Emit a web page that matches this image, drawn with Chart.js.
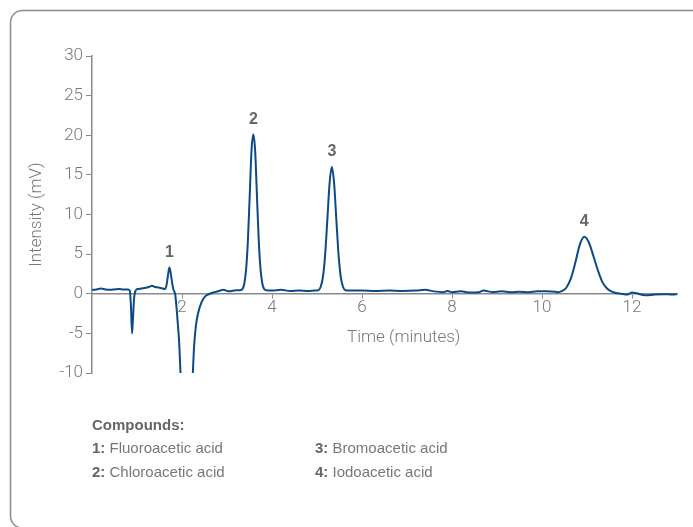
<!DOCTYPE html>
<html lang="en">
<head>
    <meta charset="UTF-8">
    <title>Haloacetic acids chromatogram</title>
    <style>
        html, body { margin: 0; padding: 0; background: #fff; }
        .wrap { position: relative; width: 693px; height: 527px; overflow: hidden; }
        #myChart { position: absolute; left: 0; top: 0; }
        .xTitle { position: absolute; left: 347px; top: 326px; font: 300 17px Roboto, sans-serif; color: #777; }
        .legend { position: absolute; left: 92px; top: 416px; font: 15px "Liberation Sans", Arial, sans-serif; color: #777; }
        .legend .head { font-weight: bold; color: #666; margin-bottom: 6px; }
        .legend .row { height: 24px; }
        .legend b { color: #666; }
        .legend span { display: inline-block; width: 223px; }
    </style>
</head>
<body>
<div class="wrap">
    <canvas id="myChart" width="693" height="527"></canvas>
    <div class="xTitle">Time (minutes)</div>
    <div class="legend">
        <div class="head">Compounds:</div>
        <div class="row"><span><b>1:</b> Fluoroacetic acid</span><span><b>3:</b> Bromoacetic acid</span></div>
        <div class="row"><span><b>2:</b> Chloroacetic acid</span><span><b>4:</b> Iodoacetic acid</span></div>
    </div>
</div>

    <script src="https://cdn.jsdelivr.net/npm/chart.js"></script>

    <script>
    // retention time (min) and detector signal (mV)
    const times = [
        0.00, 0.10, 0.20, 0.30, 0.40, 0.50, 0.60, 0.70, 0.80, 0.84,
        0.865, 0.89, 0.91, 0.935, 0.97, 1.02, 1.10, 1.20, 1.28, 1.33,
        1.40, 1.48, 1.55, 1.62, 1.66, 1.69, 1.72, 1.75, 1.78, 1.81,
        1.85, 1.90, 1.94, 1.97, 2.02, 2.10, 2.18, 2.24, 2.27, 2.31,
        2.36, 2.44, 2.52, 2.62, 2.72, 2.85, 2.92, 3.05, 3.20, 3.30,
        3.345, 3.385, 3.425, 3.465, 3.505, 3.545, 3.585, 3.625, 3.665, 3.705,
        3.745, 3.785, 3.825, 3.87, 4.00, 4.20, 4.40, 4.60, 4.80, 4.95,
        5.03, 5.08, 5.13, 5.18, 5.23, 5.28, 5.33, 5.38, 5.43, 5.48,
        5.53, 5.58, 5.63, 5.75, 6.00, 6.30, 6.60, 6.90, 7.20, 7.40,
        7.60, 7.80, 7.90, 8.00, 8.20, 8.40, 8.60, 8.70, 8.90, 9.10,
        9.30, 9.50, 9.70, 9.90, 10.10, 10.30, 10.35, 10.44, 10.54, 10.64,
        10.74, 10.84, 10.94, 11.04, 11.14, 11.24, 11.34, 11.44, 11.54, 11.64,
        11.75, 11.90, 12.00, 12.10, 12.30, 12.50, 12.70, 12.90, 13.00
    ]
    const intensity = [
        0.5, 0.55, 0.65, 0.55, 0.5, 0.55, 0.6, 0.55, 0.55, 0.4,
        -1.5, -5.0, -3.2, -0.6, 0.4, 0.6, 0.65, 0.75, 0.9, 1.0,
        0.85, 0.8, 0.7, 0.6, 1.2, 2.4, 3.3, 2.6, 1.4, 0.5,
        -0.1, -3.3, -6.4, -10.5, -15, -18, -15, -10, -6.5, -4.0,
        -2.4, -1.0, -0.3, 0.0, 0.2, 0.4, 0.5, 0.3, 0.45, 0.45,
        0.6, 1.3, 3.1, 6.8, 12.4, 18.1, 20.1, 18.1, 12.4, 6.8,
        3.1, 1.3, 0.6, 0.45, 0.4, 0.5, 0.35, 0.4, 0.35, 0.4,
        0.45, 0.85, 2.05, 4.85, 9.35, 13.95, 16.0, 13.95, 9.35, 4.85,
        2.05, 0.85, 0.45, 0.4, 0.4, 0.35, 0.4, 0.35, 0.4, 0.5,
        0.3, 0.2, 0.35, 0.2, 0.3, 0.15, 0.2, 0.4, 0.2, 0.3,
        0.2, 0.25, 0.2, 0.3, 0.3, 0.25, 0.2, 0.33, 0.76, 1.9,
        3.9, 6.2, 7.2, 6.5, 4.8, 3.0, 1.5, 0.7, 0.3, 0.1,
        0.0, -0.1, 0.15, 0.05, -0.2, -0.1, -0.05, -0.1, -0.05
    ]

    const peakLabels = ['1', '2', '3', '4']
    const peakTimes = [1.72, 3.585, 5.33, 10.94]
    const peakHeights = [3.3, 20.1, 16.0, 7.2]

    const xTicks = [2, 4, 6, 8, 10, 12]
    const yTicks = [-10, -5, 0, 5, 10, 15, 20, 25, 30]

    const tickFont = { family: 'Roboto', size: 17, weight: '300' }

    // rounded panel outline, open to the right and bottom like the source figure
    const framePlugin = {
        id: 'frame',
        beforeDraw(chart) {
            const c = chart.ctx
            const r = 12
            c.save()
            c.strokeStyle = '#8c8c8c'
            c.lineWidth = 1.5
            c.beginPath()
            c.moveTo(chart.width + 10, 10.5)
            c.lineTo(10.5 + r, 10.5)
            c.arcTo(10.5, 10.5, 10.5, 10.5 + r, r)
            c.lineTo(10.5, 528 - r)
            c.arcTo(10.5, 528, 10.5 + r, 528, r)
            c.lineTo(chart.width + 10, 528)
            c.stroke()
            c.restore()
        }
    }

    const peakLabelPlugin = {
        id: 'peakLabels',
        afterDatasetsDraw(chart) {
            const c = chart.ctx
            const xs = chart.scales.x
            const ys = chart.scales.y
            c.save()
            c.font = 'bold 16px "Liberation Sans", Arial, sans-serif'
            c.fillStyle = '#666'
            c.textAlign = 'center'
            c.textBaseline = 'middle'
            peakLabels.forEach((lab, i) => {
                c.fillText(lab, xs.getPixelForValue(peakTimes[i]), ys.getPixelForValue(peakHeights[i]) - 15)
            })
            c.restore()
        }
    }

    const ctx = document.getElementById('myChart')

    const chartConfig = {
        type: 'line',
        data: {
            datasets: [{
                data: times.map((t, i) => ({ x: t, y: intensity[i] })),
                borderColor: '#0b4a86',
                borderWidth: 2,
                pointRadius: 0,
                cubicInterpolationMode: 'monotone',
                fill: false,
            }]
        },
        options: {
            responsive: false,
            animation: false,
            layout: { padding: { left: 0, top: 56, right: 16, bottom: 154 } },
            plugins: {
                legend: { display: false },
                tooltip: { enabled: false },
            },
            scales: {
                x: {
                    type: 'linear',
                    position: { y: 0 },
                    min: 0,
                    max: 13,
                    afterBuildTicks: s => { s.ticks = xTicks.map(v => ({ value: v })) },
                    grid: { drawOnChartArea: false, tickLength: 4, color: '#888', lineWidth: 1 },
                    border: { color: '#8a8a8a', width: 1.5 },
                    ticks: { font: tickFont, color: '#777', padding: 0, maxRotation: 0 },
                },
                y: {
                    min: -10,
                    max: 30,
                    afterBuildTicks: s => { s.ticks = yTicks.map(v => ({ value: v })) },
                    afterFit: s => { s.width = 92 },
                    grid: { drawOnChartArea: false, tickLength: 6, color: '#888', lineWidth: 1 },
                    border: { color: '#8a8a8a', width: 1.5 },
                    ticks: { font: tickFont, color: '#777', padding: 3 },
                    title: {
                        display: true,
                        text: 'Intensity (mV)',
                        font: tickFont,
                        color: '#777',
                        padding: { top: 27, bottom: 0 },
                    },
                },
            },
        },
        plugins: [framePlugin, peakLabelPlugin],
    }
    const myChart = new Chart(ctx, chartConfig)
    </script>
</body>
</html>
